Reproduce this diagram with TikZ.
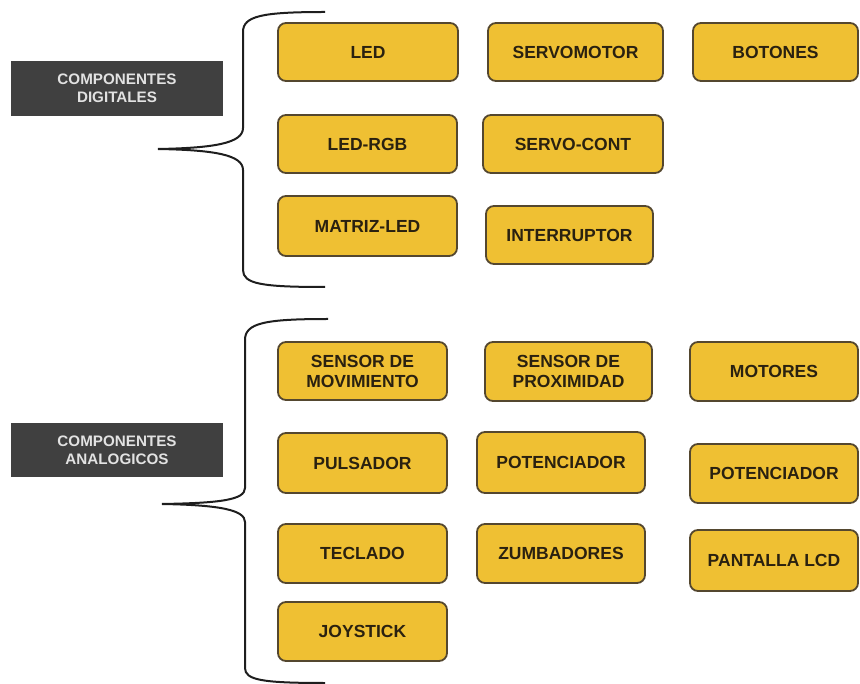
\documentclass[tikz,border=0pt]{standalone}
\usepackage{fontspec}
\setmainfont{Liberation Sans}
\definecolor{boxfill}{HTML}{EFC033}
\definecolor{boxline}{HTML}{54472F}
\definecolor{boxtext}{HTML}{2A2110}
\definecolor{darkfill}{HTML}{404040}
\definecolor{darktext}{HTML}{E2E2E2}
\definecolor{bracecol}{HTML}{1E1E1E}
\tikzset{
  comp/.style={draw=boxline, line width=1.8pt, fill=boxfill, rounded corners=8pt,
    text=boxtext, font=\bfseries\fontsize{17.5}{20}\selectfont, align=center,
    inner sep=0pt},
  cat/.style={fill=darkfill, text=darktext, align=center, inner sep=0pt,
    minimum width=212pt, minimum height=55pt,
    font=\bfseries\fontsize{15.2}{18}\selectfont},
  bracestyle/.style={draw=bracecol, line width=2pt}
}
\newcommand{\compbox}[5]{\node[comp, minimum width=#3pt, minimum height=#4pt] (#1) at (#2) {#5};}
\begin{document}
\begin{tikzpicture}[x=1pt,y=-1pt]
\useasboundingbox (0,0) rectangle (860,684);
\clip (0,0) rectangle (860,684);
% category labels
\node[cat] (dig) at (117,88.5) {COMPONENTES\\DIGITALES};
\node[cat, minimum height=54pt] (ana) at (117,450) {COMPONENTES\\ANALOGICOS};
% braces
\draw[bracestyle] (325,12) .. controls (262,12) and (243,16) .. (243,32) -- (243,128)
  .. controls (243,143) and (215,148) .. (158,149)
  .. controls (215,150) and (243,155) .. (243,170) -- (243,270)
  .. controls (243,284) and (262,287) .. (325,287);
\draw[bracestyle] (328,319) .. controls (265,319) and (245,323) .. (245,340) -- (245,488)
  .. controls (245,500) and (220,503) .. (162,504)
  .. controls (220,505) and (245,510) .. (245,522) -- (245,668)
  .. controls (245,680) and (262,683) .. (325,683);
% digital components
\compbox{led}{368,52}{180}{58}{LED}
\compbox{servo}{575.5,52}{175}{58}{SERVOMOTOR}
\compbox{botones}{775.5,52}{165}{58}{BOTONES}
\compbox{ledrgb}{367.5,144}{179}{58}{LED-RGB}
\compbox{servocont}{573,144}{180}{58}{SERVO-CONT}
\compbox{matriz}{367.5,226}{179}{60}{MATRIZ-LED}
\compbox{interr}{569.5,235}{167}{58}{INTERRUPTOR}
% analog components
\compbox{sensmov}{362.5,371}{169}{58}{SENSOR DE\\MOVIMIENTO}
\compbox{sensprox}{568.5,371.5}{167}{59}{SENSOR DE\\PROXIMIDAD}
\compbox{motores}{774,371.5}{168}{59}{MOTORES}
\compbox{pulsador}{362.5,463}{169}{60}{PULSADOR}
\compbox{potA}{561,462.5}{168}{61}{POTENCIADOR}
\compbox{potB}{774,473.5}{168}{59}{POTENCIADOR}
\compbox{teclado}{362.5,553.5}{169}{59}{TECLADO}
\compbox{zumb}{561,553.5}{168}{59}{ZUMBADORES}
\compbox{pantalla}{774,560.5}{168}{61}{PANTALLA LCD}
\compbox{joystick}{362.5,631.5}{169}{59}{JOYSTICK}
\end{tikzpicture}
\end{document}
